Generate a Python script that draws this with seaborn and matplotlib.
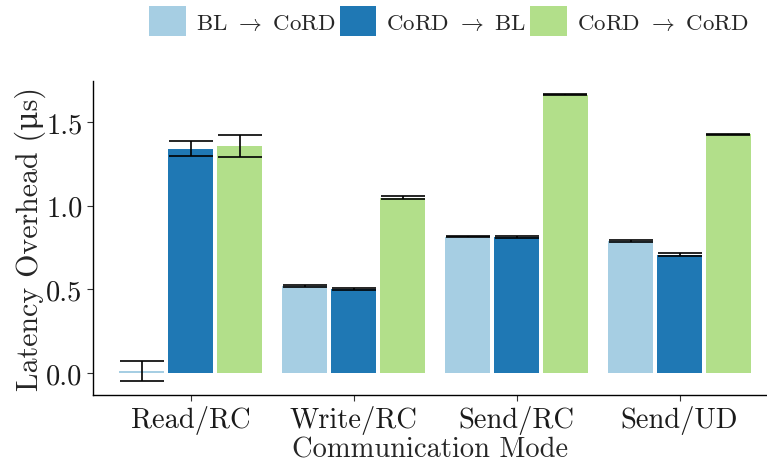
import numpy as np
import pandas as pd
import matplotlib
matplotlib.use("Agg")
import matplotlib.pyplot as plt
from matplotlib.patches import Patch
import seaborn as sns

modes = ["Read/RC", "Write/RC", "Send/RC", "Send/UD"]
series = [r"BL $\rightarrow$ CoRD", r"CoRD $\rightarrow$ BL", r"CoRD $\rightarrow$ CoRD"]
bl_cord = [0.012, 0.520, 0.814, 0.791]
bl_cord_err = [0.062, 0.008, 0.003, 0.006]
cord_bl = [1.341, 0.503, 0.812, 0.707]
cord_bl_err = [0.044, 0.007, 0.007, 0.010]
cord_cord = [1.357, 1.048, 1.662, 1.426]
cord_cord_err = [0.066, 0.010, 0.003, 0.005]
colors = ["#a6cee3", "#1f78b4", "#b2df8a"]

sns.set_theme(style="ticks")
plt.rcParams["font.family"] = ["cmr10", "DejaVu Serif"]
plt.rcParams["mathtext.fontset"] = "cm"
plt.rcParams["axes.formatter.use_mathtext"] = True
plt.rcParams["axes.unicode_minus"] = False

values = [bl_cord, cord_bl, cord_cord]
errs = [bl_cord_err, cord_bl_err, cord_cord_err]
rows = []
for s, v in zip(series, values):
    for m, val in zip(modes, v):
        rows.append({"mode": m, "series": s, "value": val})
df = pd.DataFrame(rows)

fig = plt.figure(figsize=(7.67, 4.64), dpi=100)
ax = fig.add_axes([93 / 767, 68 / 464, 1 - 93 / 767, (396 - 82) / 464])

sns.barplot(data=df, x="mode", y="value", hue="series", hue_order=series,
            order=modes, palette=colors, width=0.9, gap=0.08,
            errorbar=None, ax=ax, legend=False, linewidth=0, saturation=1)

for cont, e in zip(ax.containers, errs):
    xs = [b.get_x() + b.get_width() / 2 for b in cont]
    ys = [b.get_height() for b in cont]
    ax.errorbar(xs, ys, yerr=e, fmt="none", ecolor="black", elinewidth=1.2,
                capsize=15.5, capthick=1.2, zorder=5)

ax.set_xlim(-0.6, 3.537)
ax.set_ylim(-0.131, 1.745)
ax.set_yticks([0.0, 0.5, 1.0, 1.5])
ax.set_yticklabels(["0.0", "0.5", "1.0", "1.5"])
ax.tick_params(axis="both", labelsize=20.5, length=4.5, width=0.8, color="#333333",
               labelcolor="#1a1a1a", pad=3)
for sp in ["top", "right"]:
    ax.spines[sp].set_visible(False)
for sp in ["left", "bottom"]:
    ax.spines[sp].set_linewidth(1.0)
    ax.spines[sp].set_color("black")
ax.set_xlabel("Communication Mode", fontsize=20.5, labelpad=1)
ax.set_ylabel("Latency Overhead (μs)", fontsize=21.5, labelpad=0)

handles = [Patch(facecolor=c, edgecolor="none") for c in colors]
fig.legend(handles=handles, labels=series, loc="center", ncol=3,
           bbox_to_anchor=(449 / 767, 1 - 22 / 464), frameon=False,
           fontsize=16.5, handlelength=1.6, handleheight=1.6,
           handletextpad=0.45, columnspacing=0.15, borderpad=0)

fig.savefig("out.png", dpi=100)
